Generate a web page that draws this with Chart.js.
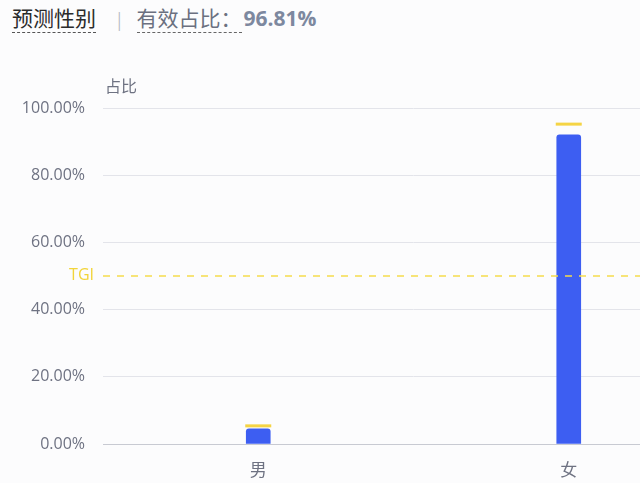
<!DOCTYPE html>
<html>
<head>
<meta charset="utf-8">
<script src="https://cdn.jsdelivr.net/npm/chart.js@4/dist/chart.umd.min.js"></script>
<style>
  html, body { margin: 0; padding: 0; background: #fcfcfd; overflow: hidden; }
  body { width: 640px; height: 483px; position: relative; font-family: "Noto Sans CJK SC", sans-serif; }
  .head { position: absolute; left: 12px; top: 2px; font-size: 21px; white-space: nowrap; }
  .head .t1 { color: #2b2b2b; border-bottom: 1.5px dashed #555; }
  .head .sep { color: #b8bcc6; margin: 0 15px 0 21px; font-size: 17px; }
  .head .t2 { color: #6b7080; border-bottom: 1.5px dashed #666; }
  .head .val { color: #7d889f; font-weight: bold; font-family: "Open Sans", sans-serif; font-size: 21px; margin-left: 2px; }
  .wrap { position: absolute; left: 0; top: 70px; width: 740px; height: 413px; }
</style>
</head>
<body>
<div class="head">
  <span class="t1">预测性别</span><span class="sep">|</span><span class="t2">有效占比：</span><span class="val">96.81%</span>
</div>
<div class="wrap"><canvas id="c"></canvas></div>
<script>
// 数据
const categories = ['男', '女'];
const shareValues = [4.5, 92.0];     // 占比 (%)
const markerValues = [5.4, 95.2];    // 黄色标记 (%)
const tgiValue = 50;
const yTicks = [0, 20, 40, 60, 80, 100];

const textGray = '#6e7282';
const gridGray = '#e3e4ea';

// 轴标题 + TGI 虚线
const extras = {
  id: 'extras',
  afterDatasetsDraw(chart) {
    const { ctx, chartArea, scales } = chart;
    ctx.save();
    ctx.font = '16px "Noto Sans CJK SC"';
    ctx.fillStyle = textGray;
    ctx.textAlign = 'left';
    ctx.textBaseline = 'middle';
    ctx.fillText('占比', chartArea.left + 2, chartArea.top - 22);

    const y = scales.y.getPixelForValue(tgiValue);
    ctx.strokeStyle = '#f5dc4c';
    ctx.lineWidth = 1.5;
    ctx.setLineDash([7, 7]);
    ctx.beginPath();
    ctx.moveTo(chartArea.left, y);
    ctx.lineTo(chartArea.right, y);
    ctx.stroke();
    ctx.fillStyle = '#f2d43a';
    ctx.font = '16px "Open Sans"';
    ctx.textAlign = 'right';
    ctx.fillText('TGI', chartArea.left - 9, y - 1);
    ctx.restore();
  }
};

new Chart(document.getElementById('c'), {
  type: 'bar',
  data: {
    labels: categories,
    datasets: [
      {
        type: 'line',
        data: markerValues,
        showLine: false,
        pointStyle: 'line',
        pointRadius: 13,
        pointHoverRadius: 13,
        borderColor: '#f5d445',
        borderWidth: 3,
        order: 0
      },
      {
        data: shareValues,
        backgroundColor: '#3d5ef2',
        barThickness: 24,
        borderRadius: { topLeft: 3, topRight: 3 },
        borderSkipped: 'bottom',
        order: 1
      }
    ]
  },
  options: {
    responsive: true,
    maintainAspectRatio: false,
    animation: false,
    layout: { padding: { top: 38, right: 0, left: 0, bottom: 0 } },
    plugins: { legend: { display: false }, tooltip: { enabled: false } },
    scales: {
      x: {
        grid: { display: false, drawTicks: true, tickLength: 6, tickColor: '#c8cad2' },
        border: { color: '#c8cad2' },
        ticks: { color: textGray, font: { family: 'Noto Sans CJK SC', size: 17 }, padding: 9 },
        afterFit(axis) { axis.height = 39; }
      },
      y: {
        min: 0,
        max: 100,
        afterBuildTicks(axis) { axis.ticks = yTicks.map(v => ({ value: v })); },
        grid: { color: gridGray, drawTicks: false },
        border: { display: false },
        afterFit(axis) { axis.width = 103; },
        ticks: {
          color: textGray,
          padding: 18,
          font: { family: 'Open Sans', size: 16 },
          callback: v => v.toFixed(2) + '%'
        }
      }
    }
  },
  plugins: [extras]
});
</script>
</body>
</html>
